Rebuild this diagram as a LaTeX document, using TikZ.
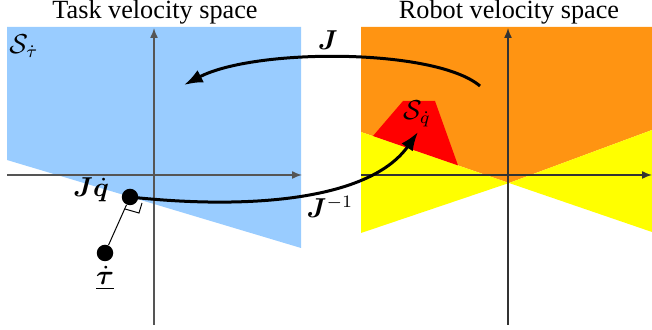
\documentclass[tikz,border=0pt]{standalone}
\usepackage{fontspec}
\setmainfont{Liberation Serif}
\usepackage{amsmath}
\usepackage{bm}
\usetikzlibrary{arrows.meta}
\definecolor{taskblue}{HTML}{99CCFF}
\definecolor{roborange}{HTML}{FF9412}
\definecolor{robyellow}{HTML}{FFFF00}
\definecolor{robred}{HTML}{FF0000}
\definecolor{axisgray}{HTML}{555555}
\definecolor{axisdark}{HTML}{333333}
\tikzset{
  axisline/.style={line width=0.6pt, -{Latex[length=4pt,width=3.2pt]}},
  maparrow/.style={line width=1.2pt, -{Latex[length=7.5pt,width=5.5pt]}},
  dotnode/.style={circle, fill=black, inner sep=0pt, minimum size=6.6pt},
  lbl/.style={inner sep=0pt},
  title/.style={inner sep=0pt}
}
\begin{document}
\begin{tikzpicture}[x=0.4pt,y=-0.4pt,font=\fontsize{10.5}{12.6}\selectfont]
\useasboundingbox (0,0) rectangle (652,330);
% left panel
\fill[taskblue] (7,27) -- (301,27) -- (301,248) -- (7,160) -- cycle;
\draw[axisline, draw=axisgray] (7,175) -- (302,175);
\draw[axisline, draw=axisgray] (154,325) -- (154,28);
% right panel
\fill[roborange] (361,27) -- (652,27) -- (652,130) -- (509,183) -- (361,132) -- cycle;
\fill[robyellow] (361,132) -- (509,183) -- (361,233) -- cycle;
\fill[robyellow] (652,130) -- (509,183) -- (652,232) -- cycle;
\fill[robred] (373,136) -- (403,101) -- (435,101) -- (458,165.4) -- cycle;
\draw[axisline, draw=axisdark] (361,175) -- (652,175);
\draw[axisline, draw=axisdark] (508,325) -- (508,28);
% titles
\node[title] (t1) at (155,12) {Task velocity space};
\node[title] (t2) at (509,12) {Robot velocity space};
% set labels
\node[lbl] (stau) at (24,46) {$\mathcal{S}_{\dot{\tau}}$};
\node[lbl] (sq) at (417,114) {$\mathcal{S}_{\dot{q}}$};
% points
\node[dotnode] (jq) at (130,197) {};
\node[dotnode] (tau) at (105,253) {};
\node[lbl] (jql) at (91,190) {$\bm{J}\dot{\bm{q}}$};
\node[lbl] (taul) at (105,278) {$\underline{\dot{\bm{\tau}}}$};
\draw[line width=0.4pt] (tau) -- (jq);
\draw[line width=0.4pt] (125,209) -- (139,213) -- (142,203);
% mapping arrows
\coordinate (jstart) at (480,86);
\coordinate (jend) at (184,85);
\draw[maparrow] (jstart) .. controls (435,48) and (255,48) .. (jend);
\node[lbl] (jlab) at (328,40) {$\bm{J}$};
\coordinate (jiend) at (418,132);
\draw[maparrow] (jq.center) .. controls (250,210) and (370,200) .. (jiend);
\node[lbl] (jilab) at (330,207) {$\bm{J}^{-1}$};
\end{tikzpicture}
\end{document}
